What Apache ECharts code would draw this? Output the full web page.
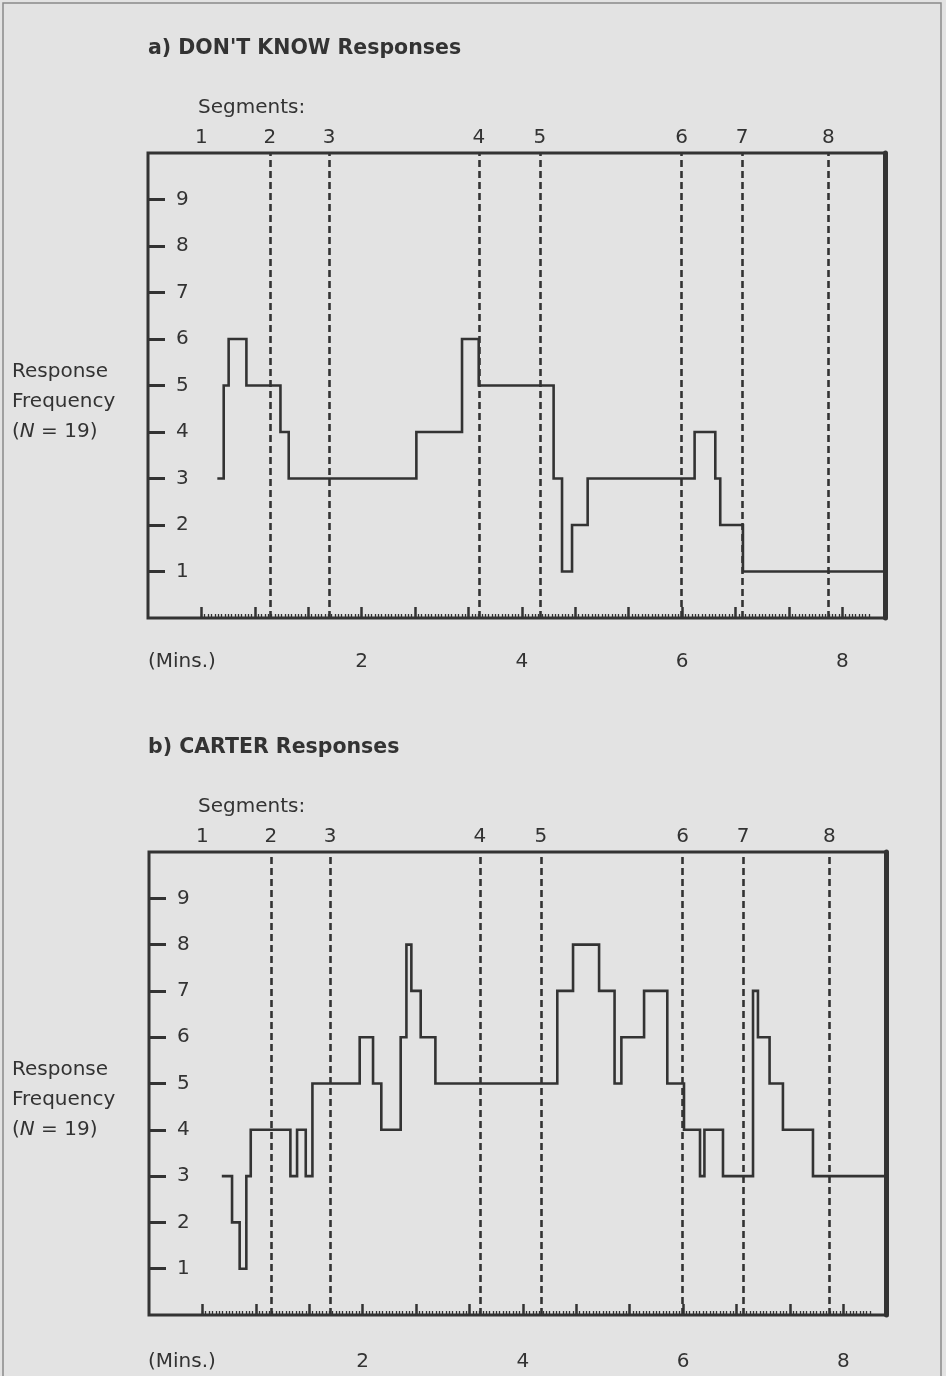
<!DOCTYPE html>
<html>
<head>
<meta charset="utf-8">
<script src="https://cdn.jsdelivr.net/npm/echarts@6/dist/echarts.min.js"></script>
<style>
  html, body { margin: 0; padding: 0; background: #e3e3e3; }
  #chart { width: 946px; height: 1376px; }
</style>
</head>
<body>
<div id="chart"></div>
<script>
// ---- data (times in seconds from start of debate excerpt) ----
const segmentLabels = ['1', '2', '3', '4', '5', '6', '7', '8'];
const segmentStarts = [0, 51.3, 95.6, 207.8, 253.5, 359.7, 405, 469.5];
const majorTicks = [0, 40, 80, 120, 160, 200, 240, 280, 320, 360, 400, 440, 480];
const minuteLabelValues = [120, 240, 360, 480];   // shown as 2, 4, 6, 8 minutes
const frequencyTicks = [1, 2, 3, 4, 5, 6, 7, 8, 9];
const timeMin = -40;
const timeMax = 512;

// a) DON'T KNOW responses: time at which each level starts, and the level
const dontKnowTimes  = [12.9, 16.7, 20.4, 33.7, 59.2, 65.4, 161.0, 195.2, 207.7, 263.8, 270.1, 277.6, 289.3, 369.4, 384.9, 388.6, 405.6, 512];
const dontKnowValues = [3,    5,    6,    5,    4,    3,    4,     6,     5,     3,     1,     2,     3,     4,     3,     2,     1,     1];

// b) CARTER responses
const carterTimes  = [15.5, 22.2, 27.9, 32.9, 36.2, 65.9, 70.9, 77.4, 82.4, 117.8, 127.8, 134.0, 148.5, 152.8, 156.5, 163.5, 174.5, 265.8, 277.6, 297.1, 308.7, 313.8, 330.8, 348.2, 360.7, 372.7, 376.0, 389.9, 412.4, 416.1, 424.8, 434.8, 457.3, 512];
const carterValues = [3,    2,    1,    3,    4,    3,    4,    3,    5,    6,     5,     4,     6,     8,     7,     6,     5,     7,     8,     7,     5,     6,     7,     5,     4,     3,     4,     3,     7,     6,     5,     4,     3,     3];

// ---- styling ----
const INK = '#333333';
const FONT = 'DejaVu Sans';
const minorTicks = [];
for (let t = 0; t <= 500; t += 2.5) minorTicks.push(t);

const grids = [
  { left: 148, top: 153, width: 737, height: 465 },
  { left: 149, top: 852, width: 737, height: 463 }
];
const minuteMargins = [34, 37];

const xAxes = [], yAxes = [], series = [];
function addPanel(gi, times, values) {
  const base = xAxes.length;
  xAxes.push({
    type: 'value', gridIndex: gi, position: 'bottom', min: timeMin, max: timeMax,
    axisLine: { show: false, onZero: false },
    axisTick: { show: true, inside: true, length: 11, customValues: majorTicks, lineStyle: { color: INK, width: 2.5 } },
    axisLabel: { show: true, customValues: minuteLabelValues, margin: minuteMargins[gi], fontSize: 20, color: INK, fontFamily: FONT,
                 formatter: v => String(Math.round(v / 60)) },
    splitLine: { show: false }
  });
  xAxes.push({
    type: 'value', gridIndex: gi, position: 'bottom', offset: 0, min: timeMin, max: timeMax,
    axisLine: { show: false, onZero: false },
    axisTick: { show: true, inside: true, length: 4, customValues: minorTicks, lineStyle: { color: INK, width: 1.3 } },
    axisLabel: { show: false },
    splitLine: { show: false }
  });
  xAxes.push({
    type: 'value', gridIndex: gi, position: 'top', min: timeMin, max: timeMax,
    axisLine: { show: false, onZero: false },
    axisTick: { show: false },
    axisLabel: { show: true, customValues: segmentStarts, margin: 5, fontSize: 20, color: INK, fontFamily: FONT,
                 formatter: v => {
                   let best = 0;
                   segmentStarts.forEach((s, i) => { if (Math.abs(s - v) < Math.abs(segmentStarts[best] - v)) best = i; });
                   return segmentLabels[best];
                 } },
    splitLine: { show: false }
  });
  const yBase = yAxes.length;
  yAxes.push({
    type: 'value', gridIndex: gi, position: 'left', min: 0, max: 10,
    axisLine: { show: false, onZero: false },
    axisTick: { show: true, inside: true, length: 17, customValues: frequencyTicks, lineStyle: { color: INK, width: 3 } },
    axisLabel: { show: true, inside: true, margin: 28, customValues: frequencyTicks, fontSize: 20, color: INK, fontFamily: FONT },
    splitLine: { show: false }
  });
  yAxes.push({
    type: 'value', gridIndex: gi, position: 'right', min: 0, max: 10,
    axisLine: { show: true, onZero: false, lineStyle: { color: INK, width: 5 } },
    axisTick: { show: false }, axisLabel: { show: false }, splitLine: { show: false }
  });
  series.push({
    type: 'line', xAxisIndex: base, yAxisIndex: yBase, step: 'end', symbol: 'none',
    data: times.map((t, i) => [t, values[i]]),
    lineStyle: { color: INK, width: 2.6, join: 'miter', cap: 'square' },
    silent: true, animation: false,
    markLine: {
      silent: true, symbol: ['none', 'none'], animation: false,
      label: { show: false },
      lineStyle: { color: INK, width: 2.6, type: [7, 4] },
      data: segmentStarts.slice(1).map(s => ({ xAxis: s }))
    }
  });
}
addPanel(0, dontKnowTimes, dontKnowValues);
addPanel(1, carterTimes, carterValues);

// text placed by its vertical centre
function txt(x, yc, text, extra) {
  return { type: 'text', left: x, top: yc - 10, silent: true,
           style: Object.assign({ text: text, fill: INK, font: '20px "DejaVu Sans"' }, extra || {}) };
}
function yTitle(yc) {
  return [
    txt(12, yc, 'Response'),
    txt(12, yc + 30, 'Frequency'),
    { type: 'text', left: 12, top: yc + 50, silent: true,
      style: { text: '{t|(}{i|N}{t| = 19)}',
               rich: { t: { fill: INK, fontSize: 20, fontFamily: FONT },
                       i: { fill: INK, fontSize: 20, fontFamily: FONT, fontStyle: 'italic' } } } }
  ];
}

const graphic = [
  { type: 'rect', shape: { x: 3, y: 3, width: 938, height: 1380 }, silent: true,
    style: { fill: 'none', stroke: '#8a8a8a', lineWidth: 1.5 } },
  txt(148, 48, "a) DON'T KNOW Responses", { font: 'bold 20.5px "DejaVu Sans"' }),
  txt(198, 108, 'Segments:'),
  txt(148, 662, '(Mins.)'),
  txt(148, 747, 'b) CARTER Responses', { font: 'bold 20.5px "DejaVu Sans"' }),
  txt(198, 807, 'Segments:'),
  txt(148, 1362, '(Mins.)')
].concat(yTitle(372)).concat(yTitle(1070));

const chart = echarts.init(document.getElementById('chart'), null, { renderer: 'canvas' });
chart.setOption({
  backgroundColor: '#e3e3e3',
  animation: false,
  grid: grids.map(g => Object.assign({ show: true, borderColor: INK, borderWidth: 3, backgroundColor: 'transparent' }, g)),
  xAxis: xAxes,
  yAxis: yAxes,
  series: series,
  graphic: graphic
});
</script>
</body>
</html>
